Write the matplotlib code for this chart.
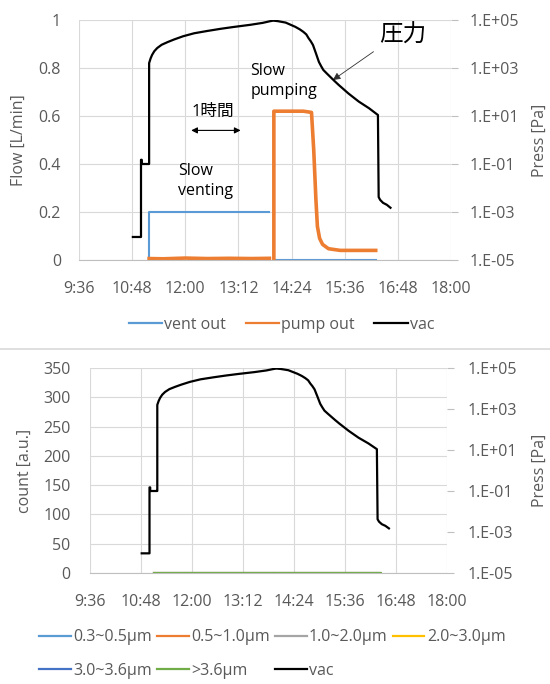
import numpy as np
import matplotlib
matplotlib.use("Agg")
import matplotlib.pyplot as plt
from matplotlib.lines import Line2D

plt.rcParams['font.family'] = ['Open Sans', 'Noto Sans CJK JP', 'DejaVu Sans']

# ---------------- data ----------------
x_tick_labels = ["9:36", "10:48", "12:00", "13:12", "14:24", "15:36", "16:48", "18:00"]
flow_ticks = [0, 0.2, 0.4, 0.6, 0.8, 1.0]
flow_tick_labels = ["0", "0.2", "0.4", "0.6", "0.8", "1"]
press_ticks = [1e-5, 1e-3, 1e-1, 1e1, 1e3, 1e5]
press_tick_labels = ["1.E-05", "1.E-03", "1.E-01", "1.E+01", "1.E+03", "1.E+05"]
count_ticks = [0, 50, 100, 150, 200, 250, 300, 350]

# vac pressure [Pa]
vac_time = ["10:49", "11:00", "11:00", "11:01", "11:01", "11:10", "11:11", "11:11",
            "11:13", "11:15", "11:18", "11:22", "11:28", "11:36", "11:45", "11:57",
            "12:12", "12:30", "12:48", "13:05", "13:28", "13:45", "13:54", "13:59",
            "14:05", "14:16", "14:29", "14:35", "14:40", "14:44", "14:47", "14:50",
            "14:53", "14:57", "15:01", "15:04", "15:07", "15:12", "15:17", "15:22",
            "15:28", "15:41", "15:55", "16:09", "16:21",
            "16:22", "16:24", "16:28", "16:33", "16:38"]
vac_press = [9.1e-5, 9.1e-5, 0.15, 0.15, 0.1, 0.1, 0.1, 1.6e3,
             2.5e3, 3.5e3, 5.0e3, 6.8e3, 9.3e3, 1.2e4, 1.55e4, 2.1e4,
             2.8e4, 3.5e4, 4.3e4, 5.1e4, 6.3e4, 7.6e4, 8.8e4, 9.4e4,
             9.0e4, 7.8e4, 5.2e4, 4.1e4, 3.2e4, 2.5e4, 1.75e4, 1.3e4,
             9.1e3, 4.1e3, 1.8e3, 1.2e3, 8.3e2, 5.8e2, 4.1e2, 2.9e2,
             1.95e2, 87, 40, 21, 11,
             4.2e-3, 3.2e-3, 2.4e-3, 2.0e-3, 1.5e-3]

# vent out [L/min]
vent_time = ["11:11", "11:11", "13:54", None, "14:00", "16:18"]
vent_flow = [0.0, 0.2, 0.2, None, 0.0, 0.0]

# pump out [L/min]
pump_time = ["11:11", "11:30", "12:00", "12:30", "13:00", "13:30", "13:54", None,
             "14:00", "14:00", "14:20", "14:40", "14:51", "14:54", "14:57", "14:59",
             "15:02", "15:06", "15:14", "15:30", "16:00", "16:18"]
pump_flow = [0.006, 0.005, 0.008, 0.006, 0.007, 0.006, 0.007, None,
             0.0, 0.62, 0.62, 0.62, 0.615, 0.46, 0.25, 0.14,
             0.09, 0.065, 0.047, 0.04, 0.04, 0.04]

# particle counts [a.u.]
particle_labels = ["0.3~0.5µm", "0.5~1.0µm", "1.0~2.0µm", "2.0~3.0µm", "3.0~3.6µm", ">3.6µm"]
particle_colors = ["#5B9BD5", "#ED7D31", "#A5A5A5", "#FFC000", "#4472C4", "#70AD47"]
particle_time = ["11:07", "13:55", None, "13:57", "16:25"]
particle_count = [0, 0, None, 0, 0]


def hm(s):
    if s is None:
        return np.nan
    h, m = s.split(":")
    return (int(h) * 60 + int(m)) / 1440.0


def nn(v):
    return np.nan if v is None else v


x_ticks = [hm(s) for s in x_tick_labels]
vx = [hm(s) for s in vac_time]

GRID = "#d9d9d9"
TXT = "#595959"
FS = 11.5

fig = plt.figure(figsize=(5.5, 6.84), dpi=100)


def style_axes(ax, axr):
    ax.set_xlim(x_ticks[0], x_ticks[-1])
    ax.set_xticks(x_ticks)
    ax.set_xticklabels(x_tick_labels)
    ax.grid(True, color=GRID, lw=0.8)
    ax.set_axisbelow(True)
    for sp in ["top", "right", "left"]:
        ax.spines[sp].set_visible(False)
        axr.spines[sp].set_visible(False)
    axr.spines["bottom"].set_visible(False)
    ax.spines["bottom"].set_color("#bfbfbf")
    ax.tick_params(axis="both", length=0, colors=TXT, labelsize=FS)
    ax.tick_params(axis="y", pad=13)
    ax.tick_params(axis="x", pad=15)
    axr.set_yscale("log")
    axr.set_ylim(1e-5, 1e5)
    axr.set_yticks(press_ticks)
    axr.set_yticklabels(press_tick_labels)
    axr.minorticks_off()
    axr.tick_params(axis="y", length=5, color="#bfbfbf", colors=TXT, labelsize=FS, pad=8)


def proxy(color, label):
    return Line2D([], [], color=color, lw=1.6, label=label)


# ---------------- top chart ----------------
ax1 = fig.add_axes([79 / 550, 1 - 260 / 684, 372 / 550, 240 / 684])
ax2 = ax1.twinx()
style_axes(ax1, ax2)
ax1.set_ylim(0, 1)
ax1.set_yticks(flow_ticks)
ax1.set_yticklabels(flow_tick_labels)

ax1.plot([hm(s) for s in vent_time], [nn(v) for v in vent_flow], color="#5B9BD5", lw=1.5)
ax1.plot([hm(s) for s in pump_time], [nn(v) for v in pump_flow], color="#ED7D31", lw=2.6)
ax2.plot(vx, vac_press, color="black", lw=1.6)

ax1.set_ylabel("Flow [L/min]", color=TXT, fontsize=FS)
ax1.yaxis.set_label_coords(-0.14, 0.5)
ax2.set_ylabel("Press [Pa]", color=TXT, fontsize=FS)
ax2.yaxis.set_label_coords(1.218, 0.5)

ax1.text(hm("11:50"), 0.33, "Slow\nventing", fontsize=11.5, color="black", ha="left", va="center",
         linespacing=1.35)
ax1.text(hm("13:28"), 0.745, "Slow\npumping", fontsize=11.5, color="black", ha="left", va="center",
         linespacing=1.35)
ax1.text(hm("12:38"), 0.617, "1時間", fontsize=12, color="black", ha="center", va="center")
ax1.annotate("", xy=(hm("13:15"), 0.54), xytext=(hm("12:08"), 0.54),
             arrowprops=dict(arrowstyle="<|-|>", color="black", lw=0.8, mutation_scale=9,
                             shrinkA=0, shrinkB=0))
ax1.text(hm("16:54"), 0.935, "圧力", fontsize=17, color="black", ha="center", va="center")
ax1.annotate("", xy=(hm("15:20"), 0.75), xytext=(hm("16:15"), 0.868),
             arrowprops=dict(arrowstyle="-|>", color="#303030", lw=0.6, mutation_scale=11,
                             shrinkA=0, shrinkB=0))

top_handles = [proxy("#5B9BD5", "vent out"), proxy("#ED7D31", "pump out"), proxy("black", "vac")]
fig.legend(handles=top_handles, loc="center", bbox_to_anchor=(0.512, 1 - 325 / 684),
           ncol=3, frameon=False, fontsize=FS, handlelength=2.1, handletextpad=0.15,
           columnspacing=1.2, labelcolor=TXT)

fig.add_artist(Line2D([0, 1], [1 - 349 / 684, 1 - 349 / 684], color=GRID, lw=1.2))

# ---------------- bottom chart ----------------
ax3 = fig.add_axes([90 / 550, 1 - 573 / 684, 357 / 550, 205 / 684])
ax4 = ax3.twinx()
style_axes(ax3, ax4)
ax3.set_ylim(0, 350)
ax3.set_yticks(count_ticks)
ax3.tick_params(axis="y", pad=14)
ax4.tick_params(axis="y", pad=10)

handles = []
for lab, col in zip(particle_labels, particle_colors):
    ax3.plot([hm(s) for s in particle_time], [nn(v) for v in particle_count], color=col,
             lw=2.2 if lab == ">3.6µm" else 1.5)
    handles.append(proxy(col, lab))
ax4.plot(vx, vac_press, color="black", lw=1.6)
handles.append(proxy("black", "vac"))

ax3.set_ylabel("count [a.u.]", color=TXT, fontsize=FS)
ax3.yaxis.set_label_coords(-0.16, 0.5)
ax4.set_ylabel("Press [Pa]", color=TXT, fontsize=FS)
ax4.yaxis.set_label_coords(1.238, 0.5)

order = [0, 4, 1, 5, 2, 6, 3]
fig.legend(handles=[handles[i] for i in order], loc="center", bbox_to_anchor=(0.495, 1 - 654 / 684),
           ncol=4, frameon=False, fontsize=FS, handlelength=2.0, handletextpad=0.15,
           columnspacing=0.3, labelspacing=1.1, labelcolor=TXT)

fig.savefig("out.png", dpi=100)
